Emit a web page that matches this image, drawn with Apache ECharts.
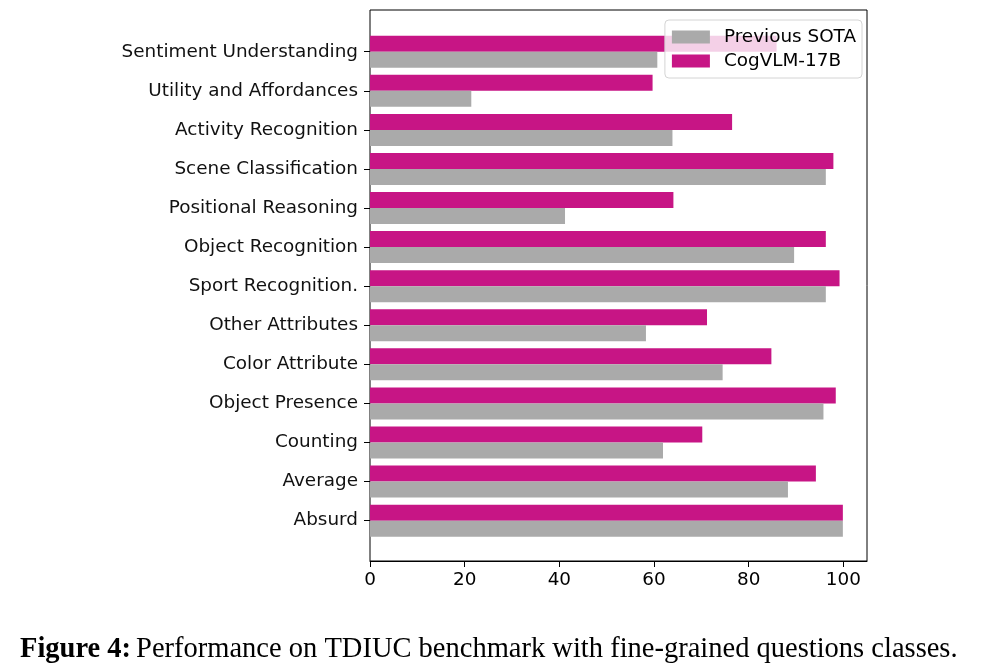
<!DOCTYPE html>
<html>
<head>
<meta charset="utf-8">
<script src="https://cdn.jsdelivr.net/npm/echarts@6/dist/echarts.min.js"></script>
<style>
html,body{margin:0;padding:0;background:#fff;}
#chart{width:983px;height:671px;}
</style>
</head>
<body>
<div id="chart"></div>
<script>
// categories, top to bottom
var categories = [
  'Sentiment Understanding',
  'Utility and Affordances',
  'Activity Recognition',
  'Scene Classification',
  'Positional Reasoning',
  'Object Recognition',
  'Sport Recognition.',
  'Other Attributes',
  'Color Attribute',
  'Object Presence',
  'Counting',
  'Average',
  'Absurd'
];
var previousSota = [60.7, 21.4, 63.9, 96.3, 41.2, 89.6, 96.3, 58.3, 74.5, 95.8, 61.9, 88.3, 99.9];
var cogvlm      = [85.9, 59.7, 76.5, 97.9, 64.1, 96.3, 99.2, 71.2, 84.8, 98.4, 70.2, 94.2, 99.9];
var xTicks = [0, 20, 40, 60, 80, 100];
var seriesNames = ['Previous SOTA', 'CogVLM-17B'];
var caption = 'Performance on TDIUC benchmark with fine-grained questions classes.';

var font = 'DejaVu Sans';
var chart = echarts.init(document.getElementById('chart'), null, {renderer: 'canvas'});
chart.setOption({
  animation: false,
  backgroundColor: '#fff',
  title: {
    left: 15,
    top: 630,
    text: '{b|Figure 4:} {n|' + caption + '}',
    textStyle: {
      fontWeight: 'normal',
      rich: {
        b: {fontFamily: 'Liberation Serif', fontWeight: 'bold', fontSize: 28.5, color: '#000'},
        n: {fontFamily: 'Liberation Serif', fontWeight: 'normal', fontSize: 28.5, color: '#000'}
      }
    }
  },
  legend: {
    data: seriesNames,
    orient: 'vertical',
    right: 121,
    top: 20,
    itemWidth: 38,
    itemHeight: 13,
    itemGap: 6,
    icon: 'rect',
    padding: [8, 6, 8, 7],
    backgroundColor: 'rgba(255,255,255,0.8)',
    borderColor: '#d4d4d4',
    borderWidth: 1,
    borderRadius: 4,
    textStyle: {fontFamily: font, fontSize: 18.4, color: '#000', padding: [0, 0, 0, 9]}
  },
  grid: [
    {left: 370, top: 10, width: 497, height: 551, show: true, borderColor: '#000', borderWidth: 1, backgroundColor: 'transparent'},
    {left: 370, top: 32.2, width: 497, height: 508}
  ],
  xAxis: [
    {
      gridIndex: 0, type: 'value', min: 0, max: 105,
      axisLine: {show: true, lineStyle: {color: '#000', width: 1}},
      axisTick: {show: true, length: 6, lineStyle: {color: '#000'}, customValues: xTicks},
      axisLabel: {fontFamily: font, fontSize: 18.4, color: '#000', margin: 10, customValues: xTicks},
      splitLine: {show: false}
    },
    {gridIndex: 1, type: 'value', min: 0, max: 105, show: false}
  ],
  yAxis: [
    {gridIndex: 0, type: 'value', min: 0, max: 1, show: false},
    {
      gridIndex: 1, type: 'category', data: categories, inverse: true,
      axisLine: {show: false},
      axisTick: {show: true, alignWithLabel: true, length: 6, lineStyle: {color: '#000'}},
      axisLabel: {fontFamily: font, fontSize: 18.4, color: '#111', margin: 12}
    }
  ],
  series: [
    {
      name: seriesNames[1], type: 'bar', xAxisIndex: 1, yAxisIndex: 1,
      data: cogvlm, barWidth: 16, barGap: '0%',
      itemStyle: {color: '#c71585'}
    },
    {
      name: seriesNames[0], type: 'bar', xAxisIndex: 1, yAxisIndex: 1,
      data: previousSota, barWidth: 16, barGap: '0%',
      itemStyle: {color: '#aaaaaa'}
    }
  ]
});
</script>
</body>
</html>
